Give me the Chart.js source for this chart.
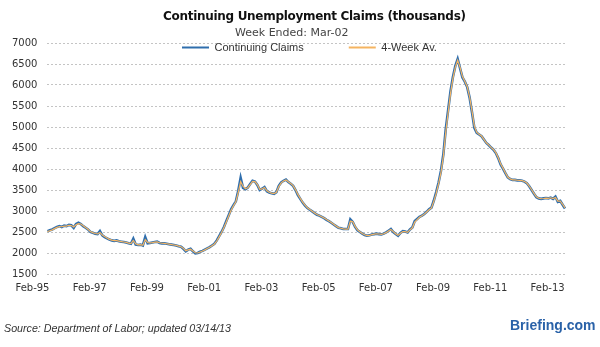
<!DOCTYPE html>
<html>
<head>
<meta charset="utf-8">
<script src="https://cdn.jsdelivr.net/npm/chart.js@4.4.1/dist/chart.umd.min.js"></script>
<style>
  html, body { margin: 0; padding: 0; background: #ffffff; }
  #wrap { position: relative; width: 600px; height: 347px; overflow: hidden; }
  #c { position: absolute; left: 0; top: 0; }
  .t { position: absolute; white-space: nowrap; }
  #title { left: 163px; top: 8px; font: bold 12px "DejaVu Sans", sans-serif; letter-spacing: -0.3px; color: #111; line-height: 16px; }
  #sub { left: 235px; top: 26px; font: 11px "DejaVu Sans", sans-serif; color: #444; line-height: 14px; }
  #src { left: 4px; top: 322px; font: italic 10.7px "Liberation Sans", sans-serif; color: #333; line-height: 12px; }
  #brand { left: 510px; top: 317px; font: bold 14px "Liberation Sans", sans-serif; color: #2a62a8; line-height: 16px; }
</style>
</head>
<body>
<div id="wrap">
  <canvas id="c" width="600" height="347"></canvas>
  <div class="t" id="title">Continuing Unemployment Claims (thousands)</div>
  <div class="t" id="sub">Week Ended: Mar-02</div>
  <div class="t" id="src">Source: Department of Labor; updated 03/14/13</div>
  <div class="t" id="brand">Briefing.com</div>
</div>
<script>
// Tick labels shown on the x axis (every 24 months)
const tickLabels = ["Feb-95","Feb-97","Feb-99","Feb-01","Feb-03","Feb-05","Feb-07","Feb-09","Feb-11","Feb-13"];
const yTicks = [1500, 7000, 500]; // min, max, step

// Monthly continuing claims (thousands), Feb-1995 .. Mar-2013
const claims1995 = [2520,2540,2560,2590,2620,2640,2620,2650,2640,2670,2660];
const claims1996 = [2600,2690,2720,2690,2640,2600,2560,2500,2480,2460,2450,2520];
const claims1997 = [2420,2380,2350,2320,2300,2290,2300,2280,2270,2260,2250,2230];
const claims1998 = [2220,2340,2200,2190,2200,2180,2380,2230,2240,2250,2260,2270];
const claims1999 = [2240,2230,2230,2220,2210,2200,2190,2180,2160,2150,2100,2040];
const claims2000 = [2080,2100,2040,1990,2000,2030,2050,2080,2110,2140,2180,2220];
const claims2001 = [2300,2400,2500,2620,2760,2900,3040,3140,3230,3480,3790,3550];
const claims2002 = [3520,3560,3640,3720,3700,3620,3500,3530,3570,3470,3440,3420];
const claims2003 = [3410,3450,3600,3680,3720,3750,3690,3650,3600,3500,3380,3290];
const claims2004 = [3200,3130,3070,3030,2990,2950,2910,2890,2860,2830,2790,2760];
const claims2005 = [2720,2680,2640,2600,2590,2570,2570,2570,2800,2740,2620,2540];
const claims2006 = [2500,2460,2430,2410,2420,2440,2450,2460,2450,2440,2460,2490];
const claims2007 = [2530,2570,2500,2450,2410,2480,2520,2510,2490,2560,2610,2760];
const claims2008 = [2810,2860,2890,2930,2980,3040,3080,3250,3450,3680,3960,4350];
const claims2009 = [4950,5400,5850,6190,6450,6620,6400,6180,6080,5950,5700,5350];
const claims2010 = [4980,4860,4820,4780,4700,4620,4570,4510,4460,4380,4260,4110];
const claims2011 = [4010,3900,3800,3760,3740,3740,3730,3730,3720,3700,3660,3590];
const claims2012 = [3500,3410,3330,3300,3290,3300,3310,3300,3320,3290,3340,3220];
const claims2013 = [3240,3150,3060];

// 4-week average (thousands), same months
const avg1995 = [2510,2530,2550,2580,2610,2630,2625,2640,2640,2660,2655];
const avg1996 = [2620,2670,2700,2690,2650,2605,2565,2510,2485,2465,2455,2490];
const avg1997 = [2430,2390,2355,2325,2305,2295,2295,2282,2272,2262,2252,2235];
const avg1998 = [2225,2300,2220,2195,2198,2185,2320,2250,2240,2248,2258,2265];
const avg1999 = [2245,2232,2228,2220,2210,2200,2190,2180,2162,2150,2110,2055];
const avg2000 = [2075,2090,2050,2005,2000,2025,2048,2075,2105,2135,2175,2215];
const avg2001 = [2285,2385,2490,2605,2740,2880,3020,3125,3220,3440,3700,3590];
const avg2002 = [3530,3555,3630,3705,3700,3630,3515,3525,3560,3480,3445,3425];
const avg2003 = [3415,3445,3580,3670,3715,3740,3695,3655,3605,3510,3395,3300];
const avg2004 = [3210,3140,3075,3035,2995,2955,2915,2892,2862,2832,2795,2762];
const avg2005 = [2725,2685,2645,2605,2590,2575,2570,2570,2760,2745,2635,2550];
const avg2006 = [2505,2465,2435,2415,2418,2438,2448,2458,2452,2442,2458,2485];
const avg2007 = [2525,2560,2510,2460,2420,2470,2512,2508,2492,2552,2600,2735];
const avg2008 = [2795,2850,2885,2925,2975,3030,3075,3230,3420,3650,3920,4300];
const avg2009 = [4880,5340,5800,6150,6420,6590,6420,6200,6090,5960,5720,5380];
const avg2010 = [5020,4870,4825,4785,4705,4625,4575,4515,4465,4390,4270,4125];
const avg2011 = [4020,3910,3810,3765,3742,3740,3732,3730,3722,3702,3665,3595];
const avg2012 = [3505,3418,3338,3305,3292,3298,3308,3302,3315,3295,3320,3235];
const avg2013 = [3238,3160,3075];

const claims = [].concat(claims1995, claims1996, claims1997, claims1998, claims1999, claims2000,
  claims2001, claims2002, claims2003, claims2004, claims2005, claims2006, claims2007, claims2008,
  claims2009, claims2010, claims2011, claims2012, claims2013);
const avg4 = [].concat(avg1995, avg1996, avg1997, avg1998, avg1999, avg2000, avg2001, avg2002,
  avg2003, avg2004, avg2005, avg2006, avg2007, avg2008, avg2009, avg2010, avg2011, avg2012, avg2013);

// Month categories Feb-95 .. Mar-13
const monNames = ["Jan","Feb","Mar","Apr","May","Jun","Jul","Aug","Sep","Oct","Nov","Dec"];
const months = [];
for (let i = 0; i < claims.length; i++) {
  const mi = (1 + i) % 12;
  const yr = 1995 + Math.floor((1 + i) / 12);
  months.push(monNames[mi] + "-" + String(yr % 100).padStart(2, "0"));
}

// Place the legend just under the top gridline, inside the plot, as in the original
const LEGEND_Y = 42;      // y of the legend row
const LEGEND_X = 182;     // x where the first legend sample starts
const legendPlace = {
  id: 'legendPlace',
  afterLayout(chart) {
    const l = chart.legend;
    if (!l || !l.lineWidths) return;
    const pad = l.options.labels.padding;
    l.top = LEGEND_Y - pad;
    l.bottom = LEGEND_Y + 20;
    const curX = (l.left + pad + l.right - l.lineWidths[0]) / 2;
    const dx = LEGEND_X - curX;
    l.left += dx; l.right += dx;
    l.height = l.bottom - l.top;
  }
};

const baseGen = Chart.defaults.plugins.legend.labels.generateLabels;

new Chart(document.getElementById('c'), {
  type: 'line',
  data: {
    labels: months,
    datasets: [
      { label: '4-Week Av.', data: avg4, borderColor: '#f5b461', backgroundColor: '#f5b461',
        borderWidth: 1.2, pointRadius: 0, tension: 0, fill: false },
      { label: 'Continuing Claims', data: claims, borderColor: '#2f6ead', backgroundColor: '#2f6ead',
        borderWidth: 2.6, pointRadius: 0, tension: 0, fill: false }
    ]
  },
  options: {
    responsive: false,
    devicePixelRatio: 1,
    animation: false,
    layout: { padding: { top: 42, left: 2, right: 35, bottom: 45 } },
    plugins: {
      title: { display: false },
      tooltip: { enabled: false },
      legend: {
        position: 'top',
        align: 'center',
        reverse: true,
        maxHeight: 1,
        labels: {
          boxWidth: 27, boxHeight: 2, padding: 45,
          color: '#333', font: { family: 'Liberation Sans', size: 11 },
          generateLabels(chart) {
            return baseGen(chart).map(it => Object.assign(it, { lineWidth: 0 }));
          }
        }
      }
    },
    scales: {
      x: {
        type: 'category',
        grid: { display: false, drawTicks: false },
        border: { display: false },
        ticks: {
          autoSkip: false, maxRotation: 0, minRotation: 0, padding: 8, labelOffset: -15,
          color: '#333', font: { family: 'DejaVu Sans', size: 10 },
          callback(val, idx) { return idx % 24 === 0 ? tickLabels[idx / 24] : null; }
        }
      },
      y: {
        min: yTicks[0], max: yTicks[1],
        grid: { color: '#c4c4c4', lineWidth: 1, drawTicks: false },
        border: { display: false, dash: [2, 2] },
        ticks: {
          stepSize: yTicks[2], padding: 10, color: '#333', font: { family: 'DejaVu Sans', size: 10 },
          callback(v) { return String(v); }
        }
      }
    }
  },
  plugins: [legendPlace]
});
</script>
</body>
</html>
